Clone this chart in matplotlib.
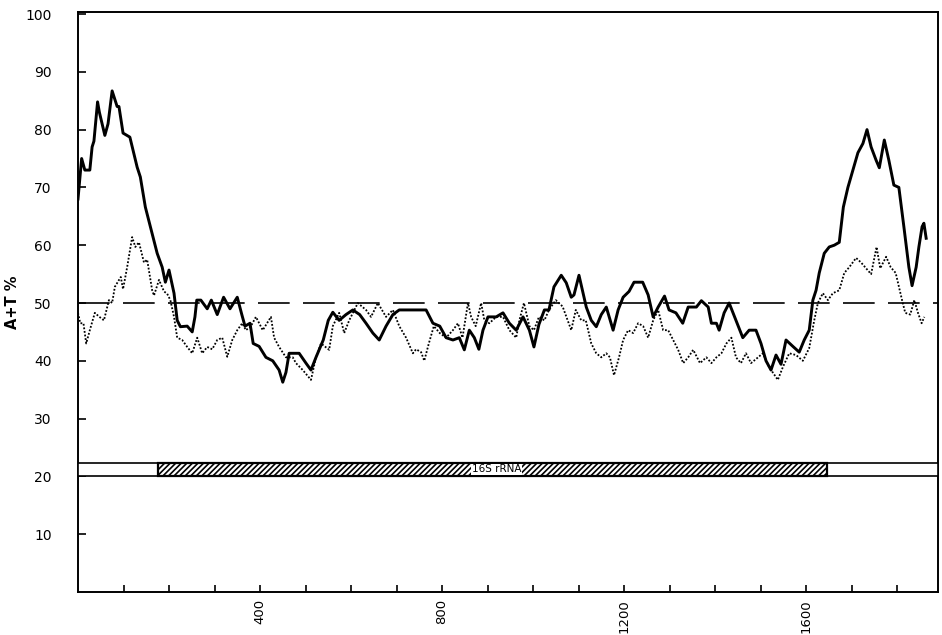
import matplotlib
matplotlib.use("Agg")
import matplotlib.pyplot as plt
from matplotlib.patches import Rectangle

# ---- data ----
solid_x = [0, 8, 15, 26, 31, 35, 43, 47, 59, 66, 75, 86, 90, 99, 114, 130, 137, 148, 163, 174,
           185, 192, 200, 211, 218, 225, 240, 251, 257, 261, 270, 284, 293, 306, 320, 334, 350, 360, 367, 378,
           385, 398, 413, 428, 442, 450, 457, 464, 486, 501, 512, 523, 539, 550, 560, 574, 589, 604, 619, 633,
           648, 662, 677, 692, 706, 721, 736, 750, 765, 780, 795, 809, 824, 838, 849, 860, 871, 881, 890, 901,
           919, 934, 948, 963, 978, 992, 1002, 1013, 1025, 1035, 1046, 1062, 1073, 1084, 1090, 1101, 1112, 1117,
           1128, 1139, 1150, 1161, 1176, 1187, 1198, 1211, 1222, 1241, 1253, 1264, 1275, 1289, 1299, 1314, 1329,
           1341, 1359, 1370, 1385, 1392, 1403, 1409, 1420, 1431, 1446, 1461, 1475, 1490, 1501, 1512, 1523, 1534,
           1545, 1556, 1571, 1585, 1596, 1607, 1615, 1622, 1629, 1640, 1651, 1662, 1673, 1682, 1692, 1703, 1714,
           1725, 1734, 1743, 1754, 1761, 1772, 1782, 1793, 1804, 1815, 1826, 1833, 1842, 1848, 1855, 1859, 1864]
solid_y = [68, 75, 73, 73, 77, 78, 84.8, 83, 79, 81, 86.7, 84, 84, 79.4, 78.7, 73.5, 71.8, 66.6, 62, 58.6,
           56.2, 53.6, 55.7, 51.7, 47, 45.9, 46, 45, 47.6, 50.5, 50.5, 49, 50.5, 48, 51, 49, 51, 48, 46, 46.5,
           43, 42.5, 40.6, 40, 38.4, 36.3, 38, 41.3, 41.3, 39.6, 38.4, 40.6, 43.6, 47, 48.4, 47, 48, 48.8, 48, 46.5,
           44.8, 43.6, 46, 48, 48.8, 48.8, 48.8, 48.8, 48.8, 46.5, 46, 44, 43.6, 44, 41.9, 45.3, 44, 42, 45.3, 47.6,
           47.6, 48.3, 46.5, 45.3, 47.6, 45.3, 42.4, 46.3, 48.8, 48.8, 52.8, 54.8, 53.5, 51, 51.4, 54.8, 51, 49.3,
           47, 45.9, 48, 49.3, 45.3, 48.8, 51, 52, 53.6, 53.6, 51.4, 47.6, 49.3, 51.2, 48.8, 48.3, 46.5,
           49.3, 49.3, 50.4, 49.3, 46.5, 46.5, 45.3, 48.3, 50, 47, 44, 45.3, 45.3, 43, 40, 38.4, 41,
           39.4, 43.6, 42.5, 41.5, 43.6, 45.3, 50.5, 52.2, 55.2, 58.6, 59.7, 60, 60.5, 66.6, 70, 73, 76,
           77.6, 80, 77, 74.7, 73.4, 78.2, 74.7, 70.4, 70, 63.2, 56.2, 53, 56.2, 59.7, 63.2, 63.8, 61.2]

dotted_x = [0, 5, 12, 18, 26, 37, 47, 57, 68, 75, 81, 94, 99, 108, 119, 126, 134, 145, 152, 163,
            167, 178, 189, 196, 203, 211, 218, 229, 240, 251, 262, 273, 284, 295, 306, 317, 328, 339, 350, 361,
            369, 380, 391, 406, 424, 431, 442, 457, 472, 479, 494, 512, 523, 534, 552, 560, 574, 585, 596, 615,
            633, 644, 659, 677, 692, 706, 721, 736, 743, 754, 761, 771, 782, 795, 809, 824, 835, 845, 857, 864,
            874, 886, 893, 904, 919, 934, 948, 963, 970, 980, 992, 1002, 1013, 1025, 1035, 1050, 1065, 1076, 1084,
            1094, 1106, 1116, 1128, 1139, 1150, 1161, 1169, 1178, 1189, 1198, 1209, 1220, 1231, 1242, 1253, 1264,
            1275, 1286, 1297, 1308, 1319, 1330, 1341, 1352, 1367, 1381, 1392, 1403, 1414, 1425, 1436, 1446, 1457,
            1468, 1479, 1490, 1505, 1519, 1538, 1549, 1563, 1578, 1593, 1607, 1618, 1626, 1637, 1648, 1659, 1673,
            1684, 1695, 1710, 1721, 1732, 1743, 1755, 1763, 1776, 1786, 1797, 1806, 1811, 1818, 1829, 1838, 1846,
            1854, 1860]
dotted_y = [48.3, 46.5, 46.5, 43, 45.3, 48.3, 47.6, 47, 50.5, 50, 52.8, 54.5, 52.4, 56.2, 61.4, 59.7, 60.5, 57, 57.5, 52.2,
            51.3, 54, 52, 51.6, 50.5, 47.6, 44, 43.6, 42.4, 41.3, 44, 41.3, 42.4, 42, 43.6, 44, 40.7, 43.6, 45.3, 46.5,
            45.3, 46, 47.6, 45.3, 47.6, 44, 42.4, 40.6, 40.6, 39.6, 38.4, 36.7, 40.6, 43, 41.9, 46, 48.3, 44.8, 47, 50,
            48.8, 47.6, 50, 47.6, 48.8, 46, 44, 41.3, 42, 41.5, 40, 43, 46, 44.8, 44, 45.3, 46.5, 44, 50, 47.6,
            46, 50, 47, 46.5, 47.6, 47.6, 45.3, 44, 47, 50, 46, 45.3, 47.6, 47, 48.8, 50.5, 49.4, 47, 45.3,
            48.8, 47, 47, 43, 41.3, 40.6, 41.3, 40.6, 37.5, 40.6, 43.6, 45.3, 44.8, 46.5, 46, 44, 47,
            48.8, 45.3, 45.3, 43.6, 41.9, 39.6, 40.6, 41.9, 39.6, 40.6, 39.6, 40.6, 41.3, 43, 44, 40.6, 39.6,
            41.3, 39.6, 40.3, 41.3, 38.9, 36.7, 38.9, 41.3, 41, 40, 42.2, 47, 50, 51.7, 50.5, 51.7, 52.2,
            55.2, 56.2, 57.8, 57, 56, 55, 59.7, 56, 58, 56.2, 55.2, 52.2, 50.5, 48.3, 48, 50.5, 48.3,
            46.5, 47.6]

y_ticks = [10, 20, 30, 40, 50, 60, 70, 80, 90, 100]
x_ticks = [400, 800, 1200, 1600]
reference_level = 50
gene_start, gene_end = 176, 1646
gene_label = "16S rRNA"
y_label = "A+T %"

# ---- figure ----
fig = plt.figure(figsize=(9.42, 6.35), dpi=100)
ax = fig.add_axes([78 / 942, 43 / 635, 860 / 942, 580 / 635])
x_max = 1890
ax.set_xlim(0, x_max)
ax.set_ylim(0, 100.35)

ax.plot(dotted_x, dotted_y, color="black", lw=1.3, linestyle=(0, (1, 1)), zorder=3)
ax.plot(solid_x, solid_y, color="black", lw=2.1, zorder=4)

dl, = ax.plot([0, x_max], [reference_level, reference_level], color="black", lw=1.2, zorder=2)
dl.set_dashes((19, 8))

# gene bar
plt.rcParams["hatch.linewidth"] = 1.2
ax.add_patch(Rectangle((0, 20), x_max, 2.4, facecolor="white", edgecolor="black", lw=1.2, zorder=5))
ax.add_patch(Rectangle((gene_start, 20), gene_end - gene_start, 2.4, facecolor="white",
                       edgecolor="black", lw=1.6, hatch="//////", zorder=6))
ax.text(920, 21.2, gene_label, ha="center", va="center", fontsize=7.5, zorder=7,
        bbox=dict(facecolor="white", edgecolor="none", pad=0.5))

# ticks
ax.set_yticks(y_ticks)
ax.set_yticklabels([str(v) for v in y_ticks], fontsize=10)
ax.tick_params(axis="y", direction="in", length=6, width=1.2, pad=19)
ax.set_xticks(x_ticks)
ax.set_xticklabels([str(v) for v in x_ticks], rotation=90, fontsize=9.5)
ax.set_xticks(range(100, 1900, 100), minor=True)
ax.tick_params(axis="x", which="both", direction="in", length=5, width=1.2, pad=5)
ax.tick_params(axis="both", which="both", right=False, top=False)

for s in ax.spines.values():
    s.set_linewidth(1.4)

ax.set_ylabel(y_label, fontsize=10.5, fontweight="bold")
ax.yaxis.set_label_coords(-0.067, 0.5)

fig.savefig("out.png", dpi=100)
